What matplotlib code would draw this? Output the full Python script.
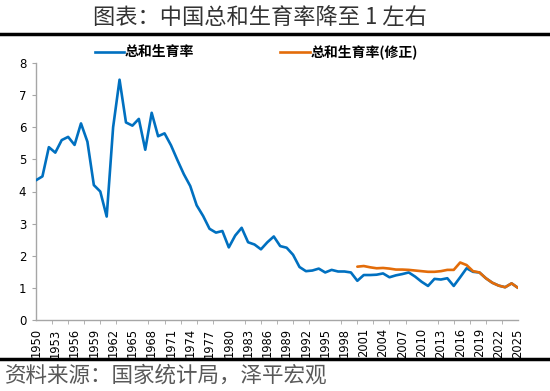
import numpy as np
import matplotlib
matplotlib.use("Agg")
import matplotlib.pyplot as plt

plt.rcParams['font.family'] = ['Noto Sans CJK SC', 'DejaVu Sans']

# data
years = list(range(1950, 2026))
tfr = [4.35, 4.47, 5.38, 5.21, 5.60, 5.70, 5.45, 6.12, 5.55, 4.20,
       4.00, 3.22, 6.00, 7.48, 6.15, 6.05, 6.26, 5.30, 6.45, 5.72,
       5.81, 5.44, 4.98, 4.54, 4.17, 3.57, 3.24, 2.84, 2.72, 2.77,
       2.26, 2.63, 2.87, 2.42, 2.35, 2.20, 2.42, 2.60, 2.30, 2.25,
       2.03, 1.65, 1.52, 1.54, 1.60, 1.48, 1.56, 1.51, 1.51, 1.48,
       1.22, 1.40, 1.40, 1.41, 1.45, 1.33, 1.39, 1.43, 1.48, 1.35,
       1.19, 1.06, 1.28, 1.26, 1.30, 1.06, 1.33, 1.61, 1.50, 1.48,
       1.30, 1.16, 1.07, 1.02, 1.14, 1.00]

years_adj = list(range(2000, 2026))
tfr_adj = [1.66, 1.68, 1.64, 1.61, 1.62, 1.60, 1.57, 1.57, 1.56, 1.54,
           1.52, 1.50, 1.50, 1.52, 1.56, 1.56, 1.79, 1.71, 1.52, 1.48,
           1.30, 1.16, 1.07, 1.02, 1.14, 1.00]

label_years = list(range(1950, 2026, 3))

title = "图表：中国总和生育率降至 1 左右"
source = "资料来源：国家统计局，泽平宏观"
name_main = "总和生育率"
name_adj = "总和生育率(修正)"

blue = "#0070C0"
orange = "#E36C09"

fig = plt.figure(figsize=(5.5, 3.91), dpi=100)
ax = fig.add_axes([36 / 550, 1 - 320 / 391, 482 / 550, 257 / 391])

ax.plot(years, tfr, color=blue, lw=1.9, solid_joinstyle='round',
        solid_capstyle='round', zorder=3)
ax.plot(years_adj, tfr_adj, color=orange, lw=1.9, solid_joinstyle='round',
        solid_capstyle='round', zorder=4)

ax.set_xlim(1950, 2025)
ax.set_ylim(0, 8)
ax.set_yticks(range(0, 9))
ax.set_xticks(label_years)
ax.set_xticklabels([str(y) for y in label_years], rotation=90,
                   fontsize=8.3, family='DejaVu Sans')
ax.set_xticks(np.arange(1950, 2025.1, 2.5), minor=True)
ax.tick_params(axis='x', which='major', length=0, pad=6)
ax.tick_params(axis='x', which='minor', length=3, color='#A6A6A6')
ax.tick_params(axis='y', length=3, color='#A6A6A6', labelsize=8.5, pad=4)
for lab in ax.get_yticklabels():
    lab.set_family('DejaVu Sans')

for s in ['top', 'right']:
    ax.spines[s].set_visible(False)
for s in ['left', 'bottom']:
    ax.spines[s].set_color('#A6A6A6')
    ax.spines[s].set_linewidth(1.0)
ax.patch.set_alpha(0)

# legend drawn by hand along the top of the plot
fig.lines.append(plt.Line2D([95 / 550, 124 / 550], [1 - 52 / 391] * 2,
                            transform=fig.transFigure, color=blue, lw=1.9))
fig.text(125 / 550, 1 - 52 / 391, name_main, fontsize=10, fontweight='bold',
         va='center', ha='left')
fig.lines.append(plt.Line2D([280 / 550, 310 / 550], [1 - 52 / 391] * 2,
                            transform=fig.transFigure, color=orange, lw=1.9))
fig.text(311 / 550, 1 - 52 / 391, name_adj, fontsize=10, fontweight='bold',
         va='center', ha='left')

# header / footer
fig.text(260 / 550, 1 - 17 / 391, title, fontsize=16, ha='center',
         va='center', color='#333333', fontweight='light')
fig.lines.append(plt.Line2D([0, 1], [1 - 34 / 391] * 2,
                            transform=fig.transFigure, color='black', lw=2.5))
fig.lines.append(plt.Line2D([0, 1], [1 - 358.5 / 391] * 2,
                            transform=fig.transFigure, color='black', lw=2.5))
fig.text(5 / 550, 1 - 376 / 391, source, fontsize=15.5, ha='left',
         va='center', color='#595959', fontweight='light')

fig.savefig("out.png", dpi=100)
